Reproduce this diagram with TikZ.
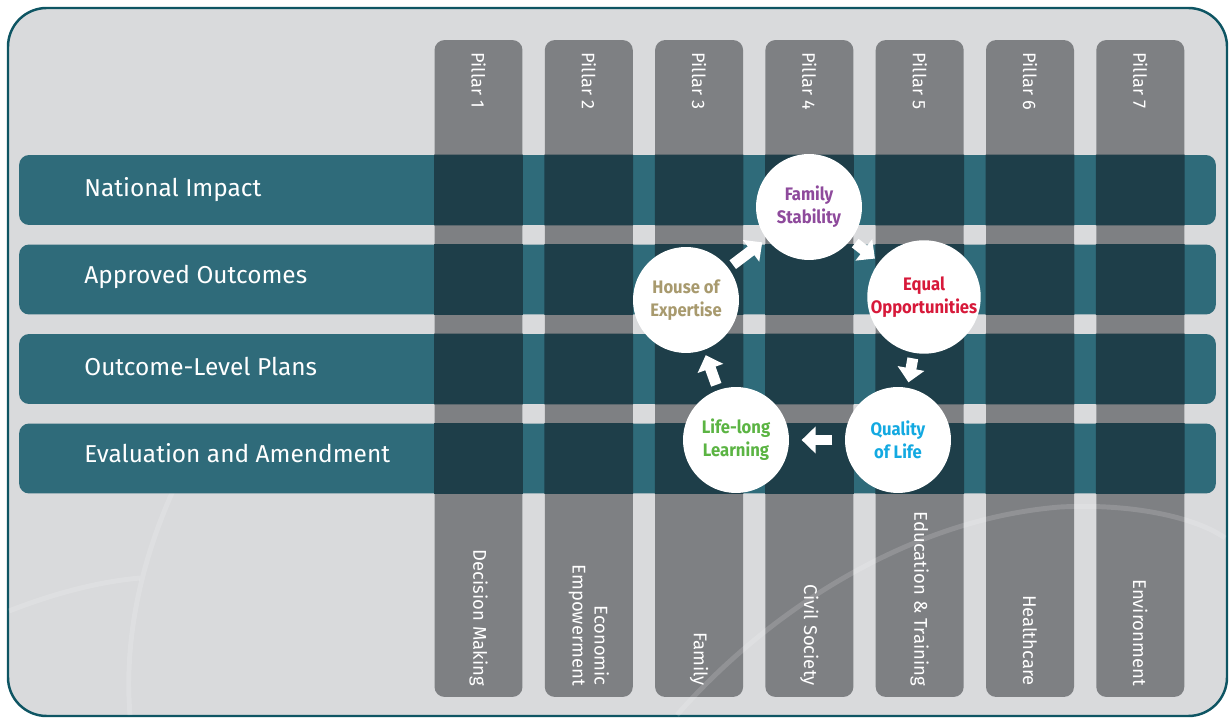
\documentclass[tikz,border=0pt]{standalone}
\usepackage{fontspec}
\setmainfont{Fira Sans}
\newfontfamily\goalfont[FakeStretch = 0.92]{Fira Sans}
\usetikzlibrary{positioning}
\usetikzlibrary{arrows.meta}

\definecolor{frameteal}{HTML}{0E5563}
\definecolor{paper}{HTML}{D9DADC}
\definecolor{rowteal}{HTML}{2F6B7A}
\definecolor{pillargray}{HTML}{7E8083}
\definecolor{crossteal}{HTML}{1E3E49}
\definecolor{famcol}{HTML}{8E4A9C}
\definecolor{eqcol}{HTML}{D7193A}
\definecolor{qolcol}{HTML}{13A9E1}
\definecolor{llcol}{HTML}{5BB443}
\definecolor{hoecol}{HTML}{A89A6E}

\begin{document}
\begin{tikzpicture}[x = 0.02cm, y = -0.02cm,
    pillar/.style = {shape = rectangle, rounded corners = 5.7pt, fill = pillargray, minimum width = 1.76cm, minimum height = 13.14cm, inner sep = 0},
    band/.style = {shape = rectangle, rounded corners = 5.7pt, fill = rowteal, minimum width = 23.94cm, minimum height = 1.4cm, inner sep = 0},
    bandtext/.style = {anchor = west, inner sep = 0, text = white, font = \fontsize{13.9}{16}\selectfont},
    toptext/.style = {rotate = -90, anchor = west, inner sep = 0, text = white, font = \fontsize{10.3}{12}\selectfont},
    foottext/.style = {rotate = -90, anchor = east, inner sep = 0, align = right, text = white, font = \fontsize{10.5}{12.5}\selectfont},
    goal/.style = {shape = circle, fill = white, minimum size = 2.12cm, inner sep = 0, align = center, font = \goalfont\fontsize{10.3}{13}\selectfont\bfseries},
    flow/.style = {white, line width = 6.2pt, -{Triangle[width = 15pt, length = 8pt]}, shorten <= 3pt, shorten >= 3pt},
    swirl/.style = {white, opacity = 0.15, line width = 2.8pt},
    ]
    \useasboundingbox (0,0) rectangle (1231,722);
    \filldraw[fill = paper, draw = frameteal, line width = 1.4pt, rounded corners = 22pt] (8,8) rectangle (1227,716);

    \node[pillar] (P1) at (478.5,368.5) {};
    \node[pillar] (P2) at (588.8,368.5) {};
    \node[pillar] (P3) at (699.1,368.5) {};
    \node[pillar] (P4) at (809.4,368.5) {};
    \node[pillar] (P5) at (919.7,368.5) {};
    \node[pillar] (P6) at (1030,368.5) {};
    \node[pillar] (P7) at (1140.3,368.5) {};

    \draw[swirl] (9,611) .. controls (50,595) and (95,582) .. (140,578);
    \draw[swirl] (130,715) .. controls (124,640) and (140,560) .. (178,480);
    \draw[swirl] (677,715) .. controls (760,620) and (900,520) .. (1060,507) .. controls (1140,503) and (1200,520) .. (1225,538);

    \node[toptext] (T1) at (478.5,52) {Pillar 1};
    \node[toptext] (T2) at (588.8,52) {Pillar 2};
    \node[toptext] (T3) at (699.1,52) {Pillar 3};
    \node[toptext] (T4) at (809.4,52) {Pillar 4};
    \node[toptext] (T5) at (919.7,52) {Pillar 5};
    \node[toptext] (T6) at (1030,52) {Pillar 6};
    \node[toptext] (T7) at (1140.3,52) {Pillar 7};

    \node[foottext] (B1) at (478.5,686) {Decision Making};
    \node[foottext] (B2) at (588.8,686) {Economic\\Empowerment};
    \node[foottext] (B3) at (699.1,686) {Family};
    \node[foottext] (B4) at (809.4,686) {Civil Society};
    \node[foottext] (B5) at (919.7,686) {Education \& Training};
    \node[foottext] (B6) at (1030,686) {Healthcare};
    \node[foottext] (B7) at (1140.3,686) {Environment};

    \node[band] (R1) at (617.5,190) {};
    \node[band] (R2) at (617.5,279.5) {};
    \node[band] (R3) at (617.5,369) {};
    \node[band] (R4) at (617.5,458.5) {};

    % where a pillar runs under a row
    \begin{scope}
        \clip (R1.north west) rectangle (R1.south east) (R2.north west) rectangle (R2.south east)
              (R3.north west) rectangle (R3.south east) (R4.north west) rectangle (R4.south east);
        \fill[crossteal] (P1.north west) rectangle (P1.south east) (P2.north west) rectangle (P2.south east)
              (P3.north west) rectangle (P3.south east) (P4.north west) rectangle (P4.south east)
              (P5.north west) rectangle (P5.south east) (P6.north west) rectangle (P6.south east)
              (P7.north west) rectangle (P7.south east);
    \end{scope}

    \node[bandtext] (L1) at (84,190) {National Impact};
    \node[bandtext] (L2) at (84,277) {Approved Outcomes};
    \node[bandtext] (L3) at (84,366) {Outcome-Level Plans};
    \node[bandtext] (L4) at (84,453) {Evaluation and Amendment};

    \node[goal, text = famcol] (family) at (809,207) {Family\\Stability};
    \node[goal, text = eqcol] (equal) at (924,297) {Equal\\Opportunities};
    \node[goal, text = qolcol] (quality) at (898,440) {Quality\\of Life};
    \node[goal, text = llcol] (learning) at (736,440) {Life-long\\Learning};
    \node[goal, text = hoecol] (house) at (686,300) {House of\\Expertise};

    \path[flow] (house) edge (family);
    \path[flow] (family) edge (equal);
    \path[flow] (equal) edge (quality);
    \path[flow, shorten <= 7pt, shorten >= 7pt] (quality) edge (learning);
    \path[flow] (learning) edge (house);
\end{tikzpicture}
\end{document}
